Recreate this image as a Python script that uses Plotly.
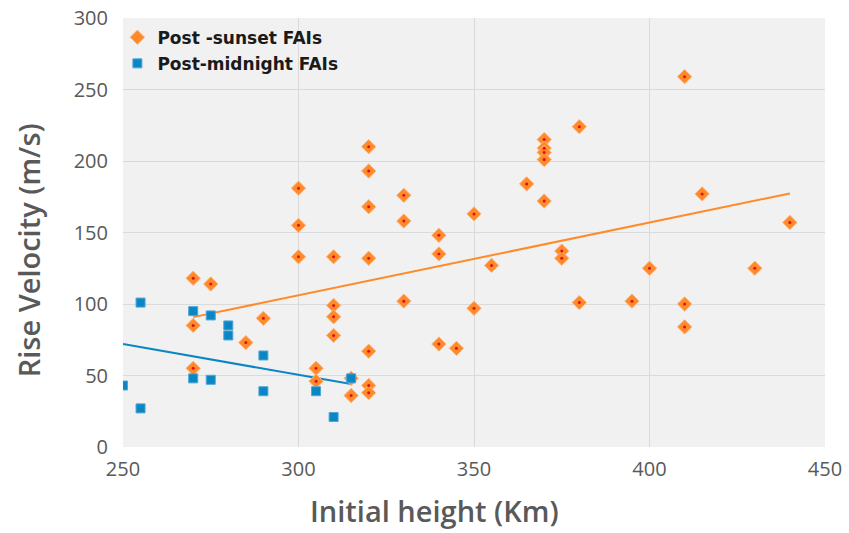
import numpy as np
import plotly.graph_objects as go

# Post-sunset FAIs
sunset_x = [270, 270, 270, 275, 285, 290, 300, 300, 300, 305, 305, 310, 310, 310, 310,
            315, 315, 320, 320, 320, 320, 320, 320, 320, 330, 330, 330, 340, 340, 340,
            345, 350, 350, 355, 365, 370, 370, 370, 370, 370, 375, 375, 380, 380, 395,
            400, 410, 410, 410, 415, 430, 440]
sunset_y = [118, 85, 55, 114, 73, 90, 181, 155, 133, 55, 46, 133, 99, 91, 78,
            48, 36, 210, 193, 168, 132, 67, 43, 38, 176, 158, 102, 148, 135, 72,
            69, 163, 97, 127, 184, 215, 209, 206, 201, 172, 137, 132, 224, 101, 102,
            125, 259, 100, 84, 177, 125, 157]

# Post-midnight FAIs
midnight_x = [250, 255, 255, 270, 270, 275, 275, 280, 280, 290, 290, 305, 310, 315]
midnight_y = [43, 101, 27, 95, 48, 92, 47, 85, 78, 64, 39, 39, 21, 48]

x_ticks = [250, 300, 350, 400, 450]
y_ticks = [0, 50, 100, 150, 200, 250, 300]

orange = "#FF8A2A"
blue = "#0A86C4"

def trend(xs, ys):
    k, b = np.polyfit(xs, ys, 1)
    xx = np.array([min(xs), max(xs)], dtype=float)
    return xx, k * xx + b

fig = go.Figure()

tx, ty = trend(sunset_x, sunset_y)
fig.add_trace(go.Scatter(x=tx, y=ty, mode="lines", line=dict(color="#FF8A2A", width=2),
                         showlegend=False, hoverinfo="skip"))
mx, my = trend(midnight_x, midnight_y)
fig.add_trace(go.Scatter(x=mx, y=my, mode="lines", line=dict(color="#0A86C4", width=2),
                         showlegend=False, hoverinfo="skip"))

fig.add_trace(go.Scatter(x=sunset_x, y=sunset_y, mode="markers", name="Post -sunset FAIs",
                         legendgroup="a",
                         marker=dict(symbol="diamond", size=11, color=orange,
                                     line=dict(color="#FFB27A", width=1))))
fig.add_trace(go.Scatter(x=sunset_x, y=sunset_y, mode="markers", showlegend=False,
                         legendgroup="a",
                         marker=dict(symbol="circle", size=3, color="#E0101A"),
                         hoverinfo="skip"))
fig.add_trace(go.Scatter(x=midnight_x, y=midnight_y, mode="markers", name="Post-midnight FAIs",
                         legendgroup="b",
                         marker=dict(symbol="square", size=9, color=blue,
                                     line=dict(color="#4FA6D6", width=1))))

axis_title_font = dict(family="Open Sans", size=29, color="#595959", weight=600)

fig.update_layout(
    width=849, height=533,
    margin=dict(l=123, r=24, t=18, b=86),
    paper_bgcolor="white",
    plot_bgcolor="#F1F1F1",
    showlegend=True,
    legend=dict(x=-0.008, y=0.996, xanchor="left", yanchor="top",
                bgcolor="rgba(0,0,0,0)",
                font=dict(family="DejaVu Sans", size=17, color="#1A1A1A", weight="bold"),
                itemsizing="trace", tracegroupgap=1, itemwidth=30),
    xaxis=dict(range=[250, 450], tickvals=x_ticks, ticktext=[str(v) for v in x_ticks],
               automargin=False,
               showgrid=True, gridcolor="#DADADA", gridwidth=1, zeroline=False,
               showline=False, ticks="", ticklabelstandoff=8,
               tickfont=dict(family="Open Sans", size=20, color="#595959")),
    yaxis=dict(range=[0, 300], tickvals=y_ticks, ticktext=[str(v) for v in y_ticks],
               automargin=False,
               showgrid=True, gridcolor="#DADADA", gridwidth=1, zeroline=False,
               showline=False, ticks="", ticklabelstandoff=14,
               tickfont=dict(family="Open Sans", size=20, color="#595959")),
    annotations=[
        dict(text="Initial height (Km)", xref="paper", yref="paper",
             x=0.444, y=-0.147, xanchor="center", yanchor="middle",
             showarrow=False, font=axis_title_font),
        dict(text="Rise Velocity (m/s)", xref="paper", yref="paper",
             x=-0.135, y=0.459, xanchor="center", yanchor="middle",
             textangle=-90, showarrow=False, font=axis_title_font),
    ],
)

fig.write_html("out.html", config={"displayModeBar": False},
               post_script="document.body.style.margin='0';document.body.style.overflow='hidden';")
